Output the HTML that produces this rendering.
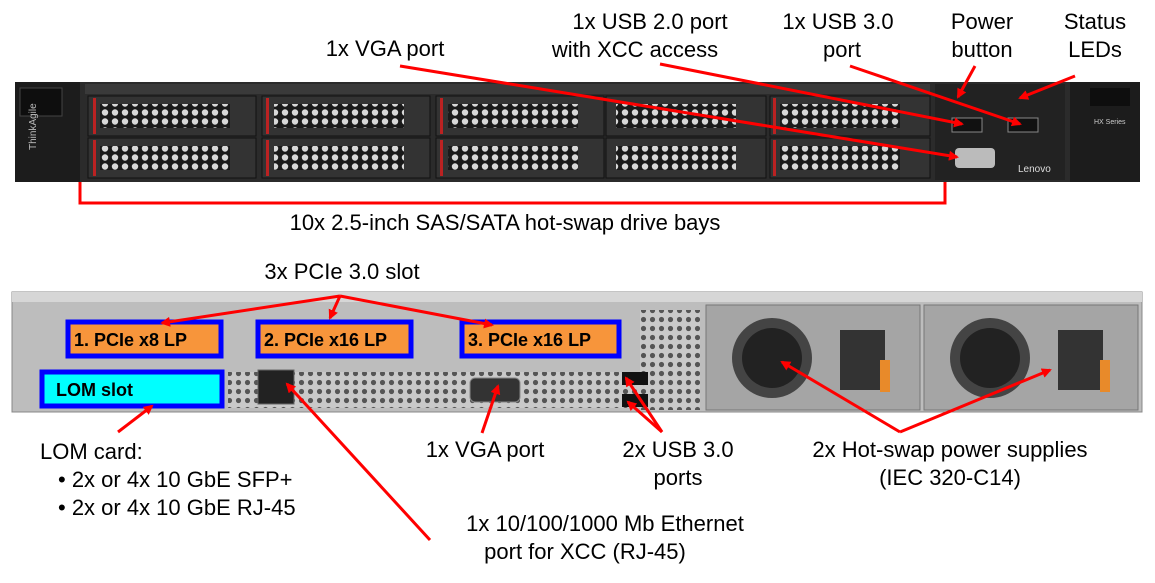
<!DOCTYPE html>
<html><head><style>
body{margin:0;background:#fff;width:1155px;height:578px;overflow:hidden;font-family:"Liberation Sans",sans-serif}
svg text{font-family:"Liberation Sans",sans-serif}
</style></head><body>
<svg width="1155" height="578" viewBox="0 0 1155 578" xmlns="http://www.w3.org/2000/svg">
<defs>
<marker id="a" markerWidth="10" markerHeight="10" refX="8" refY="5" orient="auto" markerUnits="userSpaceOnUse"><path d="M0,0 L10,5 L0,10 z" fill="#f00"/></marker>
<pattern id="hex" width="10" height="9" patternUnits="userSpaceOnUse"><rect width="10" height="9" fill="#1a1a1a"/><circle cx="5" cy="4.5" r="3.2" fill="#d8d8d8"/></pattern>
<pattern id="vent" width="9" height="9" patternUnits="userSpaceOnUse"><rect width="9" height="9" fill="#c9c9c9"/><circle cx="4.5" cy="4.5" r="2.6" fill="#555"/></pattern>
</defs>
<!-- FRONT -->
<rect x="15" y="82" width="1125" height="100" fill="#2b2b2b"/>
<rect x="15" y="82" width="65" height="100" fill="#1c1c1c"/>
<rect x="20" y="88" width="42" height="28" fill="#0e0e0e" stroke="#444"/>
<text x="36" y="150" font-size="10" fill="#bbb" transform="rotate(-90 36 150)">ThinkAgile</text>
<rect x="85" y="84" width="845" height="10" fill="#3a3a3a"/>
<g fill="#333" stroke="#111">
<rect x="88" y="96" width="168" height="40"/><rect x="88" y="138" width="168" height="40"/>
<rect x="262" y="96" width="168" height="40"/><rect x="262" y="138" width="168" height="40"/>
<rect x="436" y="96" width="168" height="40"/><rect x="436" y="138" width="168" height="40"/>
<rect x="606" y="96" width="160" height="40"/><rect x="606" y="138" width="160" height="40"/>
<rect x="770" y="96" width="160" height="40"/><rect x="770" y="138" width="160" height="40"/>
</g>
<g fill="url(#hex)">
<rect x="100" y="104" width="130" height="24"/><rect x="100" y="146" width="130" height="24"/>
<rect x="274" y="104" width="130" height="24"/><rect x="274" y="146" width="130" height="24"/>
<rect x="448" y="104" width="130" height="24"/><rect x="448" y="146" width="130" height="24"/>
<rect x="616" y="104" width="120" height="24"/><rect x="616" y="146" width="120" height="24"/>
<rect x="780" y="104" width="120" height="24"/><rect x="780" y="146" width="120" height="24"/>
</g>
<g fill="#b22"><rect x="93" y="98" width="3" height="36"/><rect x="93" y="140" width="3" height="36"/><rect x="266" y="98" width="3" height="36"/><rect x="266" y="140" width="3" height="36"/><rect x="440" y="98" width="3" height="36"/><rect x="440" y="140" width="3" height="36"/><rect x="773" y="98" width="3" height="36"/><rect x="773" y="140" width="3" height="36"/></g>
<rect x="935" y="84" width="130" height="96" fill="#222"/>
<rect x="952" y="118" width="30" height="14" fill="#111" stroke="#888"/>
<rect x="1008" y="118" width="30" height="14" fill="#111" stroke="#888"/>
<rect x="955" y="148" width="40" height="20" rx="4" fill="#bbb"/>
<text x="1018" y="172" font-size="10" fill="#ddd">Lenovo</text>
<rect x="1070" y="82" width="70" height="100" fill="#1c1c1c"/>
<rect x="1090" y="88" width="40" height="18" fill="#0e0e0e"/>
<text x="1094" y="124" font-size="7" fill="#ccc">HX Series</text>
<polyline points="80,182 80,203 945,203 945,182" fill="none" stroke="#f00" stroke-width="3"/>
<!-- REAR -->
<rect x="12" y="292" width="1130" height="120" fill="#bdbdbd" stroke="#888"/>
<rect x="12" y="292" width="1130" height="10" fill="#d6d6d6"/>
<rect x="228" y="372" width="470" height="36" fill="url(#vent)"/>
<rect x="640" y="310" width="60" height="100" fill="url(#vent)"/>
<rect x="258" y="370" width="36" height="34" fill="#222" stroke="#666"/>
<rect x="470" y="378" width="50" height="24" rx="5" fill="#333" stroke="#888"/>
<rect x="622" y="372" width="26" height="13" fill="#111"/><rect x="622" y="394" width="26" height="13" fill="#111"/>
<g>
<rect x="706" y="305" width="214" height="105" fill="#a5a5a5" stroke="#777"/>
<rect x="924" y="305" width="214" height="105" fill="#a5a5a5" stroke="#777"/>
<circle cx="772" cy="358" r="40" fill="#444"/><circle cx="772" cy="358" r="30" fill="#222"/>
<circle cx="990" cy="358" r="40" fill="#444"/><circle cx="990" cy="358" r="30" fill="#222"/>
<rect x="840" y="330" width="45" height="60" fill="#333"/><rect x="1058" y="330" width="45" height="60" fill="#333"/>
<rect x="880" y="360" width="10" height="32" fill="#e88a2a"/><rect x="1100" y="360" width="10" height="32" fill="#e88a2a"/>
</g>
<g stroke="#0000ff" stroke-width="5">
<rect x="68" y="322" width="153" height="34" fill="#f7953b"/>
<rect x="258" y="322" width="153" height="34" fill="#f7953b"/>
<rect x="462" y="322" width="157" height="34" fill="#f7953b"/>
<rect x="42" y="372" width="180" height="34" fill="#00ffff"/>
</g>
<g font-weight="bold" font-size="18" fill="#000">
<text x="74" y="346">1. PCIe x8 LP</text>
<text x="264" y="346">2. PCIe x16 LP</text>
<text x="468" y="346">3. PCIe x16 LP</text>
<text x="56" y="396">LOM slot</text>
</g>
<g stroke="#f00" stroke-width="3" fill="none" marker-end="url(#a)">
<line x1="400" y1="66" x2="957" y2="157"/>
<line x1="660" y1="64" x2="962" y2="124"/>
<line x1="850" y1="66" x2="1020" y2="124"/>
<line x1="975" y1="66" x2="958" y2="97"/>
<line x1="1075" y1="76" x2="1020" y2="98"/>
<line x1="340" y1="296" x2="162" y2="323"/>
<line x1="340" y1="296" x2="330" y2="318"/>
<line x1="340" y1="296" x2="492" y2="325"/>
<line x1="118" y1="432" x2="152" y2="406"/>
<line x1="430" y1="540" x2="287" y2="384"/>
<line x1="482" y1="433" x2="498" y2="386"/>
<line x1="662" y1="432" x2="626" y2="378"/>
<line x1="662" y1="432" x2="628" y2="402"/>
<line x1="900" y1="432" x2="782" y2="362"/>
<line x1="900" y1="432" x2="1050" y2="370"/>
</g>
<g font-size="22" fill="#000" text-anchor="middle">
<text x="385" y="56">1x VGA port</text>
<text x="650" y="29">1x USB 2.0 port</text>
<text x="635" y="57">with XCC access</text>
<text x="838" y="29">1x USB 3.0</text>
<text x="842" y="57">port</text>
<text x="982" y="29">Power</text>
<text x="982" y="57">button</text>
<text x="1095" y="29">Status</text>
<text x="1095" y="57">LEDs</text>
<text x="505" y="230">10x 2.5-inch SAS/SATA hot-swap drive bays</text>
<text x="342" y="279">3x PCIe 3.0 slot</text>
<text x="485" y="457">1x VGA port</text>
<text x="678" y="457">2x USB 3.0</text>
<text x="678" y="485">ports</text>
<text x="950" y="457">2x Hot-swap power supplies</text>
<text x="950" y="485">(IEC 320-C14)</text>
<text x="605" y="531">1x 10/100/1000 Mb Ethernet</text>
<text x="585" y="559">port for XCC (RJ-45)</text>
</g>
<g font-size="22" fill="#000">
<text x="40" y="459">LOM card:</text>
<text x="58" y="487">•  2x or 4x 10 GbE SFP+</text>
<text x="58" y="515">•  2x or 4x 10 GbE RJ-45</text>
</g>
</svg>
</body></html>
